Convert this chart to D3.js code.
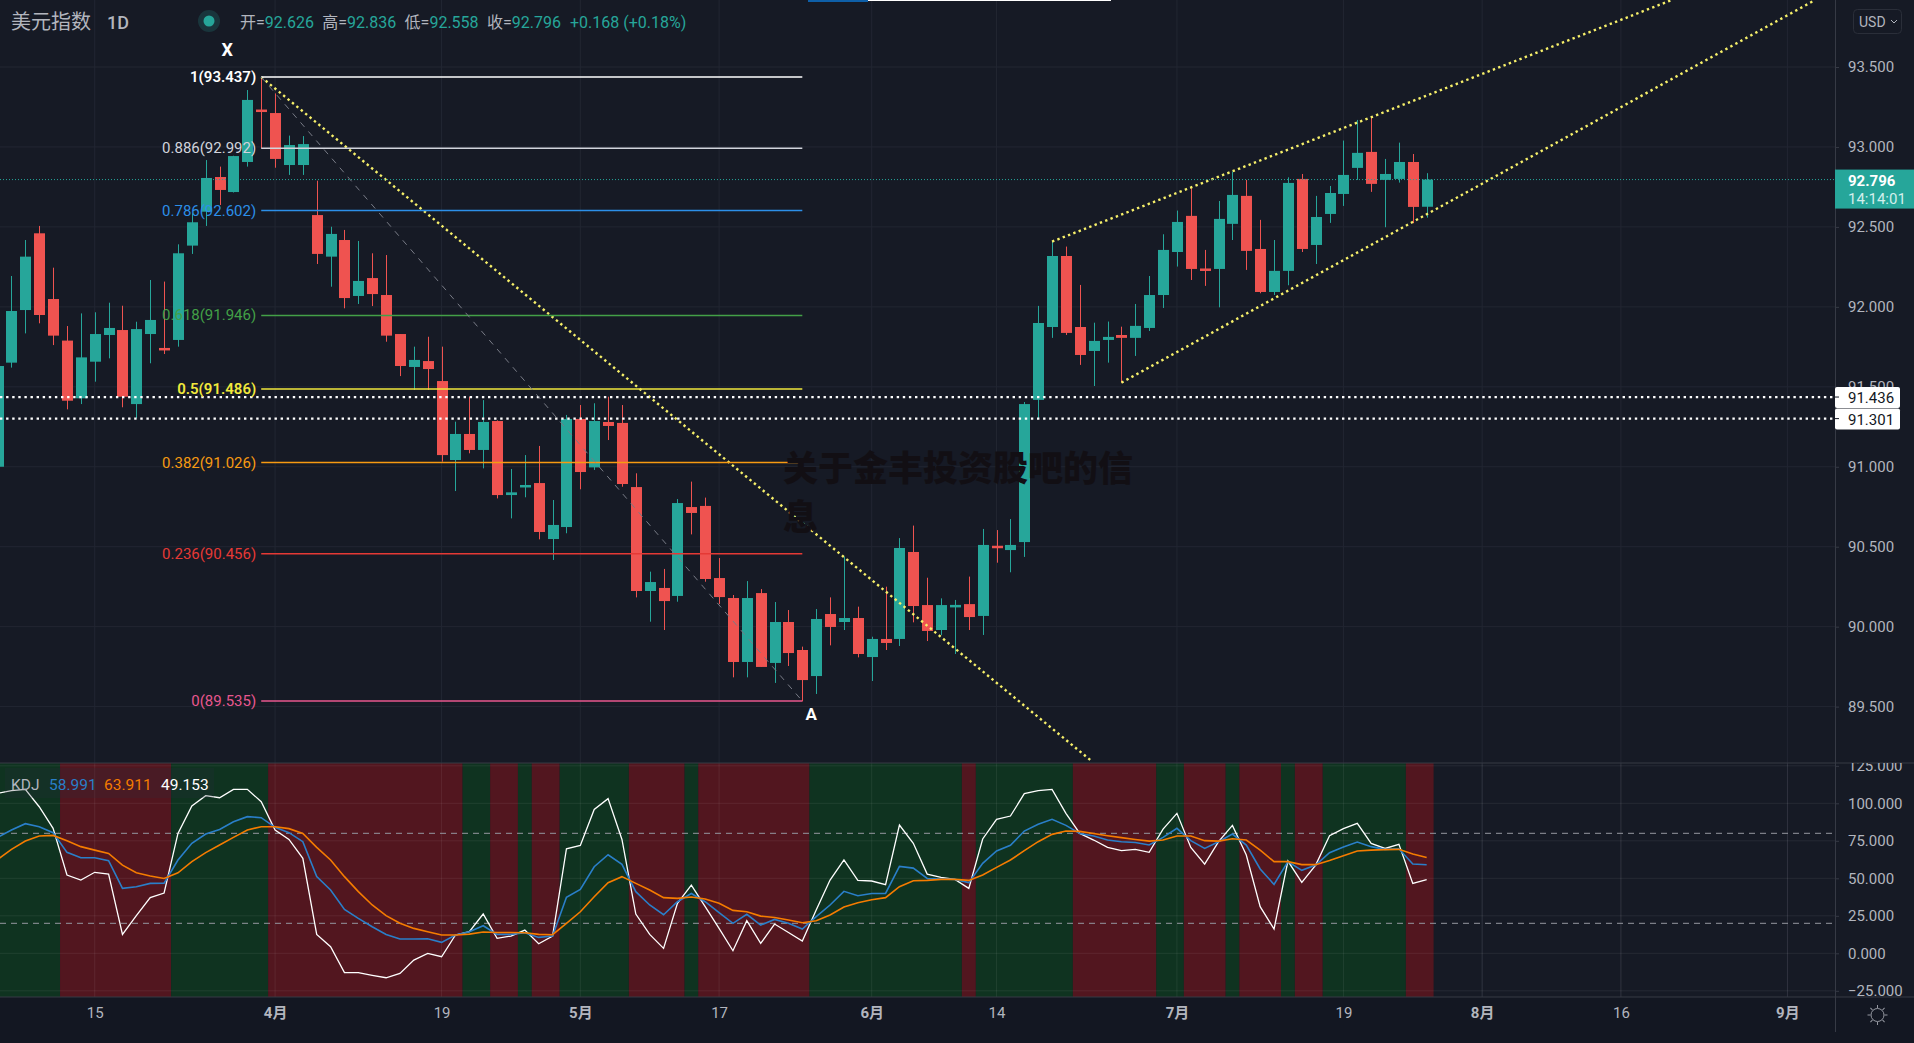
<!DOCTYPE html>
<html>
<head>
<meta charset="utf-8">
<title>美元指数 1D</title>
<script src="https://cdn.jsdelivr.net/npm/d3@7"></script>
<style>
html, body { margin: 0; padding: 0; background: #131722; overflow: hidden; }
svg { display: block; }
text { font-family: Roboto, "Noto Sans CJK SC", sans-serif; }
</style>
</head>
<body>
<svg id="canvas" width="1914" height="1043"></svg>
<script>
var opens = [91.00,91.651,91.980,92.460,92.049,91.789,91.428,91.657,91.824,91.855,91.392,91.830,91.743,91.793,92.383,92.595,92.812,92.718,92.906,93.234,93.212,92.887,92.887,92.574,92.314,92.418,92.068,92.180,92.074,91.830,91.624,91.661,91.536,91.042,91.205,91.105,91.286,90.823,90.871,90.898,90.548,90.623,91.299,90.996,91.280,91.274,90.873,90.223,90.242,90.192,90.748,90.755,90.304,90.179,89.779,90.210,89.773,90.029,89.854,89.691,90.079,90.029,90.054,89.810,89.923,89.923,90.467,90.135,89.979,90.133,90.141,90.067,90.506,90.479,90.529,91.418,91.874,92.318,91.874,91.724,91.793,91.824,91.806,91.868,92.074,92.343,92.569,92.240,92.237,92.519,92.694,92.362,92.093,92.225,92.800,92.387,92.581,92.706,92.869,92.969,92.794,92.800,92.906,92.626];
var highs = [91.70,92.193,92.418,92.506,92.245,91.880,91.959,91.966,92.026,92.007,91.907,92.168,92.158,92.391,92.585,92.918,92.877,92.945,93.356,93.437,93.335,93.071,93.068,92.789,92.501,92.481,92.412,92.335,92.324,91.830,91.751,91.813,91.751,91.282,91.438,91.417,91.290,90.986,91.073,91.130,90.792,91.324,91.386,91.397,91.438,91.386,90.959,90.344,90.361,90.798,90.907,90.807,90.429,90.198,90.285,90.235,90.154,90.104,89.875,90.110,90.183,90.438,90.125,89.937,90.250,90.554,90.632,90.306,90.177,90.167,90.313,90.611,90.604,90.673,91.405,92.006,92.412,92.377,92.137,91.901,91.908,91.876,92.018,92.193,92.454,92.602,92.742,92.356,92.662,92.846,92.794,92.544,92.418,92.810,92.831,92.694,92.756,93.040,93.169,93.186,92.925,93.027,92.956,92.836];
var lows = [90.98,91.620,91.834,91.897,91.761,91.359,91.392,91.532,91.678,91.372,91.303,91.647,91.705,91.751,92.331,92.506,92.637,92.715,92.877,92.991,92.870,92.825,92.825,92.268,92.126,91.991,92.018,92.005,91.782,91.567,91.480,91.480,91.032,90.848,91.084,90.990,90.802,90.677,90.809,90.546,90.417,90.584,90.859,90.980,91.167,90.875,90.183,90.031,89.979,90.156,90.577,90.281,90.142,89.683,89.683,89.748,89.648,89.754,89.533,89.579,89.883,89.979,89.808,89.660,89.854,89.879,90.027,89.910,89.948,89.829,89.979,89.948,90.400,90.340,90.436,91.299,91.806,91.824,91.637,91.505,91.651,91.526,91.693,91.849,91.993,92.252,92.168,92.131,91.997,92.418,92.231,92.085,92.074,92.135,92.343,92.268,92.525,92.631,92.794,92.719,92.498,92.777,92.523,92.558];
var closes = [91.630,91.974,92.314,91.949,91.820,91.413,91.684,91.830,91.868,91.438,91.861,91.918,91.740,92.335,92.529,92.806,92.731,92.943,93.294,93.225,92.925,93.012,93.018,92.331,92.456,92.055,92.162,92.080,91.820,91.630,91.668,91.611,91.073,91.205,91.105,91.280,90.823,90.840,90.886,90.592,90.636,91.299,90.967,91.286,91.255,90.892,90.223,90.279,90.160,90.773,90.711,90.298,90.185,89.779,90.179,89.748,90.029,89.835,89.666,90.048,89.998,90.054,89.829,89.923,89.898,90.492,90.129,89.973,90.135,90.136,90.060,90.511,90.500,90.511,91.392,91.899,92.318,91.837,91.699,91.787,91.812,91.806,91.881,92.074,92.356,92.531,92.237,92.234,92.550,92.700,92.350,92.093,92.225,92.775,92.362,92.562,92.712,92.825,92.963,92.769,92.831,92.906,92.625,92.796];

var kValues = [77.3,82.2,86.4,84.4,80.4,67.3,63.7,63.7,61.7,43.3,44.4,46.6,46.8,62.2,73.3,79.5,82.6,87.7,91.1,90.4,84.0,80.4,74.4,51.1,42.2,29.3,23.3,17.7,12.6,9.5,9.5,9.7,7.3,12.2,14.4,18.4,12.6,12.6,13.7,10.6,11.5,37.3,42.6,57.7,65.7,59.3,41.1,32.2,25.7,34.4,39.9,34.4,27.1,20.0,26.0,18.8,22.6,20.0,16.2,24.4,32.2,41.3,38.4,39.9,39.9,57.9,56.8,49.9,49.5,49.3,47.1,60.0,68.2,72.0,81.5,86.0,89.3,85.3,79.9,78.2,75.5,74.4,73.9,72.2,77.3,83.3,75.1,69.9,74.4,79.5,72.2,56.2,45.9,61.1,55.3,58.8,67.1,70.8,74.2,71.1,69.3,69.7,59.5,58.991];
var dValues = [62.6,69.3,74.8,78.2,78.6,75.1,71.1,68.8,66.6,58.8,53.7,51.5,49.9,53.7,61.1,67.1,72.2,77.3,82.2,84.4,84.4,83.1,79.9,70.6,62.2,51.1,41.1,32.2,25.1,20.0,16.6,14.4,12.2,12.2,12.8,14.2,13.9,13.9,13.7,12.6,12.4,20.0,27.7,37.7,47.1,51.1,46.6,42.2,37.1,36.6,37.5,36.2,33.3,28.6,27.7,24.8,23.9,22.2,20.4,21.7,25.5,30.8,33.7,35.7,37.1,44.4,48.4,48.6,49.3,49.3,48.6,52.2,57.3,62.2,68.4,74.4,79.3,81.5,81.3,79.9,78.4,77.1,75.9,74.8,75.5,78.2,78.2,75.1,74.8,76.4,75.5,68.8,61.1,61.1,59.1,59.1,61.9,65.1,68.2,68.8,69.1,69.3,66.2,63.911];
var jValues = [106.6,108.4,109.3,97.7,83.3,52.2,48.8,54.0,52.8,12.6,25.1,37.1,40.2,79.9,98.2,105.1,103.7,109.3,109.3,101.1,82.2,75.9,63.3,12.6,4.4,-12.9,-12.9,-14.7,-16.3,-13.4,-4.5,-0.1,-2.3,12.2,14.4,26.2,10.0,11.5,15.5,6.4,11.5,69.7,71.9,95.9,103.1,75.9,26.2,12.6,3.3,33.3,45.5,31.1,16.6,1.7,21.7,6.6,19.5,13.9,8.2,28.8,48.8,62.2,48.6,48.2,45.7,85.5,73.3,52.8,50.6,49.3,43.3,76.2,89.3,91.5,106.4,108.4,109.3,93.3,79.9,75.5,70.6,68.4,69.3,67.3,82.8,93.3,70.6,59.5,74.4,85.3,65.5,31.1,16.2,61.5,47.3,58.8,78.4,83.1,86.6,73.3,69.9,72.6,46.6,49.153];

// first and last bar of every KDJ background run
var bullRuns = [[0,4],[13,19],[34,35],[38,38],[41,45],[50,50],[59,69],[71,77],[84,85],[89,89],[93,93],[96,101]];
var bearRuns = [[5,12],[20,33],[36,37],[39,40],[46,49],[51,58],[70,70],[78,83],[86,88],[90,92],[94,95],[102,103]];

var timeTickBars = [7,20,32,42,52,63,72,85,97,107,117,129];
var timeTickLabels = ['15','4月','19','5月','17','6月','14','7月','19','8月','16','9月'];
var priceTicks = [89.5,90,90.5,91,91.5,92,92.5,93,93.5];
var kdjTicks = [-25,0,25,50,75,100,125];
var kdjBands = [20,80];

var fibLevels = [
    {label:'1(93.437)', p:93.437, c:'#ffffff'},
    {label:'0.886(92.992)', p:92.992, c:'#d1d4dc'},
    {label:'0.786(92.602)', p:92.602, c:'#2c8fe8'},
    {label:'0.618(91.946)', p:91.946, c:'#43a047'},
    {label:'0.5(91.486)', p:91.486, c:'#f2e93c'},
    {label:'0.382(91.026)', p:91.026, c:'#f79a12'},
    {label:'0.236(90.456)', p:90.456, c:'#e53935'},
    {label:'0(89.535)', p:89.535, c:'#e8578e'}
];
var fibStartBar = 19;
var fibEndBar = 58;
var trendLines = [
    {x1:19, y1:93.437, x2:78.84, y2:89.16},
    {x1:76, y1:92.408, x2:120.67, y2:93.919},
    {x1:81, y1:91.526, x2:131, y2:93.919}
];
var drawnLevels = [91.436,91.301];
var lastPrice = 92.796;

var width = 1914, height = 1043, axisX = 1835, paneBottom = 763, kdjBottom = 997;
var svg = d3.select('#canvas');
var teal = '#26a69a', red = '#ef5350', grid = '#222632', axisLine = '#363a45', axisText = '#b2b5be';

var x = d3.scaleLinear().domain([0,129]).range([-2.4,1787.4]);
var y = d3.scaleLinear().domain([89.5,93.5]).range([706.6,67]);
var kdjY = d3.scaleLinear().domain([-25,125]).range([990.8,765.8]);
var barStep = x(1) - x(0);

var defs = svg.append('defs');
defs.append('clipPath').attr('id','mainClip').append('rect').attr('x',0).attr('y',0).attr('width',axisX).attr('height',paneBottom);
defs.append('clipPath').attr('id','kdjClip').append('rect').attr('x',0).attr('y',paneBottom).attr('width',axisX).attr('height',kdjBottom-paneBottom);
defs.append('clipPath').attr('id','kdjAxisClip').append('rect').attr('x',axisX).attr('y',paneBottom).attr('width',width-axisX).attr('height',kdjBottom-paneBottom);

svg.append('rect').attr('width',width).attr('height',height).attr('fill','#131722');
svg.append('rect').attr('width',width).attr('height',kdjBottom).attr('fill','#161a25');

function drawGrid() {
    svg.append('g').selectAll('line').data(timeTickBars).enter().append('line')
        .attr('x1',function(d){return x(d);}).attr('x2',function(d){return x(d);})
        .attr('y1',0).attr('y2',kdjBottom).attr('stroke',grid);
    svg.append('g').selectAll('line').data(priceTicks).enter().append('line')
        .attr('x1',0).attr('x2',axisX).attr('y1',function(d){return y(d);}).attr('y2',function(d){return y(d);})
        .attr('stroke',grid);
}

function drawCandles() {
    var bars = svg.append('g').attr('clip-path','url(#mainClip)').selectAll('g').data(opens).enter().append('g');
    bars.append('line')
        .attr('x1',function(d,i){return Math.round(x(i))+0.5;})
        .attr('x2',function(d,i){return Math.round(x(i))+0.5;})
        .attr('y1',function(d,i){return y(highs[i]);})
        .attr('y2',function(d,i){return y(lows[i]);})
        .attr('stroke',function(d,i){return closes[i]>=d?teal:red;});
    bars.append('rect')
        .attr('x',function(d,i){return Math.round(x(i))-5;})
        .attr('width',11)
        .attr('y',function(d,i){return y(Math.max(d,closes[i]));})
        .attr('height',function(d,i){return Math.max(2.5,Math.abs(y(d)-y(closes[i])));})
        .attr('fill',function(d,i){return closes[i]>=d?teal:red;});
}

function drawFib() {
    var g = svg.append('g');
    g.selectAll('line').data(fibLevels).enter().append('line')
        .attr('x1',x(fibStartBar)).attr('x2',x(fibEndBar))
        .attr('y1',function(d){return y(d.p);}).attr('y2',function(d){return y(d.p);})
        .attr('stroke',function(d){return d.c;}).attr('stroke-width',1.5);
    g.selectAll('text').data(fibLevels).enter().append('text')
        .attr('x',x(fibStartBar)-5).attr('y',function(d){return y(d.p)+5;})
        .attr('text-anchor','end').attr('fill',function(d){return d.c;})
        .attr('font-size',15).attr('font-weight',function(d){return d.p==91.486||d.p==93.437?600:400;})
        .text(function(d){return d.label;});
    g.append('line')
        .attr('x1',x(fibStartBar)).attr('y1',y(93.437)).attr('x2',x(fibEndBar)).attr('y2',y(89.535))
        .attr('stroke','#787b86').attr('stroke-dasharray','6 6');
    g.append('text').attr('x',x(fibStartBar)-34).attr('y',y(93.437)-21).attr('text-anchor','middle')
        .attr('fill','#fff').attr('font-size',18).attr('font-weight',700).text('X');
    g.append('text').attr('x',x(fibEndBar)+9).attr('y',y(89.535)+19).attr('text-anchor','middle')
        .attr('fill','#fff').attr('font-size',17).attr('font-weight',700).text('A');
}

function drawTrends() {
    var g = svg.append('g').attr('clip-path','url(#mainClip)');
    g.selectAll('line.under').data(trendLines).enter().append('line').attr('class','under')
        .attr('x1',function(d){return x(d.x1);}).attr('y1',function(d){return y(d.y1);})
        .attr('x2',function(d){return x(d.x2);}).attr('y2',function(d){return y(d.y2);})
        .attr('stroke','#f7f06a').attr('stroke-width',2.4).attr('stroke-dasharray','2.4 3.3');
    var levels = svg.append('g');
    levels.selectAll('line').data(drawnLevels).enter().append('line')
        .attr('x1',0).attr('x2',axisX).attr('y1',function(d){return y(d);}).attr('y2',function(d){return y(d);})
        .attr('stroke','#fff').attr('stroke-width',2.2).attr('stroke-dasharray','2.4 3.7');
    levels.append('line').attr('x1',0).attr('x2',axisX).attr('y1',y(lastPrice)).attr('y2',y(lastPrice))
        .attr('stroke',teal).attr('stroke-dasharray','1 2');
}

function drawKdj() {
    var g = svg.append('g').attr('clip-path','url(#kdjClip)');
    function band(runs, color) {
        g.append('g').selectAll('rect').data(runs).enter().append('rect')
            .attr('x',function(d){return x(d[0])-barStep/2;})
            .attr('width',function(d){return (d[1]-d[0]+1)*barStep;})
            .attr('y',paneBottom).attr('height',kdjBottom-paneBottom).attr('fill',color);
    }
    band(bullRuns,'#0f3320');
    band(bearRuns,'#52161f');
    g.append('g').selectAll('line').data(kdjTicks).enter().append('line')
        .attr('x1',0).attr('x2',axisX).attr('y1',function(d){return kdjY(d);}).attr('y2',function(d){return kdjY(d);})
        .attr('stroke','#ffffff').attr('stroke-opacity',0.07);
    g.append('g').selectAll('line').data(timeTickBars).enter().append('line')
        .attr('x1',function(d){return x(d);}).attr('x2',function(d){return x(d);})
        .attr('y1',paneBottom).attr('y2',kdjBottom).attr('stroke','#ffffff').attr('stroke-opacity',0.07);
    g.append('g').selectAll('line').data(kdjBands).enter().append('line')
        .attr('x1',0).attr('x2',axisX-3).attr('y1',function(d){return kdjY(d);}).attr('y2',function(d){return kdjY(d);})
        .attr('stroke','#9598a1').attr('stroke-dasharray','6 5');
    var line = d3.line().x(function(d,i){return x(i);}).y(function(d){return kdjY(d);});
    g.append('path').datum(jValues).attr('d',line).attr('fill','none').attr('stroke','#ffffff').attr('stroke-width',1.3);
    g.append('path').datum(kValues).attr('d',line).attr('fill','none').attr('stroke','#2a7fc9').attr('stroke-width',1.6);
    g.append('path').datum(dValues).attr('d',line).attr('fill','none').attr('stroke','#f57c00').attr('stroke-width',1.6);
    svg.append('line').attr('x1',0).attr('x2',width).attr('y1',paneBottom).attr('y2',paneBottom).attr('stroke',axisLine);
    svg.append('line').attr('x1',0).attr('x2',width).attr('y1',kdjBottom).attr('y2',kdjBottom).attr('stroke',axisLine);
    svg.append('rect').attr('x',5).attr('y',768).attr('width',209).attr('height',30)
        .attr('fill','#2a2e39').attr('fill-opacity',0.22);
    var legend = svg.append('text').attr('x',11).attr('y',790).attr('font-size',15.5);
    legend.append('tspan').attr('fill','#b2b5be').text('KDJ');
    legend.append('tspan').attr('x',49).attr('fill','#2a7fc9').text(kValues[103].toFixed(3));
    legend.append('tspan').attr('x',104).attr('fill','#f57c00').text(dValues[103].toFixed(3));
    legend.append('tspan').attr('x',161).attr('fill','#ffffff').text(jValues[103].toFixed(3));
}

function drawAxes() {
    svg.append('line').attr('x1',axisX+0.5).attr('x2',axisX+0.5).attr('y1',0).attr('y2',1032).attr('stroke',axisLine);
    var priceAxis = d3.axisRight(y).tickValues(priceTicks).tickFormat(d3.format('.3f')).tickSize(4).tickPadding(9);
    var kdjAxis = d3.axisRight(kdjY).tickValues(kdjTicks).tickFormat(d3.format('.3f')).tickSize(4).tickPadding(9);
    var timeAxis = d3.axisBottom(x).tickValues(timeTickBars)
        .tickFormat(function(d,i){return timeTickLabels[i];}).tickSize(0).tickPadding(10);
    var a = svg.append('g').attr('transform','translate('+axisX+',0)').call(priceAxis);
    var b = svg.append('g').attr('clip-path','url(#kdjAxisClip)')
        .append('g').attr('transform','translate('+axisX+',0)').call(kdjAxis);
    var c = svg.append('g').attr('transform','translate(0,'+kdjBottom+')').call(timeAxis);
    [a,b,c].forEach(function(s){
        s.select('.domain').remove();
        s.selectAll('line').attr('stroke',axisLine);
        s.selectAll('text').attr('fill',axisText).attr('font-size',15).attr('font-family','Roboto, "Noto Sans CJK SC", sans-serif');
    });
    c.selectAll('text').attr('font-weight',function(d,i){return timeTickLabels[i].indexOf('月')>0?700:400;});
}

function drawPriceTags() {
    var tags = svg.append('g').selectAll('g').data(drawnLevels).enter().append('g');
    tags.append('rect').attr('x',axisX).attr('y',function(d){return y(d)-10;}).attr('width',65).attr('height',21).attr('rx',2).attr('fill','#fff');
    tags.append('line').attr('x1',axisX).attr('x2',axisX+4).attr('y1',function(d){return y(d);}).attr('y2',function(d){return y(d);}).attr('stroke','#131722');
    tags.append('text').attr('x',axisX+13).attr('y',function(d){return y(d)+6;}).attr('fill','#131722').attr('font-size',15)
        .text(function(d){return d.toFixed(3);});
    var last = svg.append('g');
    last.append('rect').attr('x',axisX).attr('y',y(lastPrice)-10).attr('width',width-axisX).attr('height',39).attr('fill',teal);
    last.append('text').attr('x',axisX+13).attr('y',y(lastPrice)+6).attr('fill','#fff').attr('font-size',15).attr('font-weight',700).text(lastPrice.toFixed(3));
    last.append('text').attr('x',axisX+13).attr('y',y(lastPrice)+24).attr('fill','#d3efec').attr('font-size',15).text('14:14:01');
}

function drawHeader() {
    svg.append('text').attr('x',11).attr('y',29).attr('fill','#b2b5be').attr('font-size',20).text('美元指数');
    svg.append('text').attr('x',107).attr('y',29).attr('fill','#b2b5be').attr('font-size',18).attr('font-weight',500).text('1D');
    svg.append('circle').attr('cx',209).attr('cy',21).attr('r',11).attr('fill',teal).attr('fill-opacity',0.2);
    svg.append('circle').attr('cx',209).attr('cy',21).attr('r',5.5).attr('fill',teal);
    var info = svg.append('text').attr('y',28).attr('font-size',16).attr('fill',teal);
    var quote = [['开=',opens[103]],['高=',highs[103]],['低=',lows[103]],['收=',closes[103]]];
    quote.forEach(function(q,i){
        info.append('tspan').attr('x',240+i*82.3).attr('fill','#b2b5be').text(q[0]);
        info.append('tspan').text(q[1].toFixed(3));
    });
    info.append('tspan').attr('x',570).text('+0.168 (+0.18%)');
    svg.append('rect').attr('x',1853.5).attr('y',9.5).attr('width',48).attr('height',24).attr('rx',4)
        .attr('fill','none').attr('stroke','#2a2e39');
    svg.append('text').attr('x',1859).attr('y',27).attr('fill',axisText).attr('font-size',14).text('USD');
    svg.append('path').attr('d','M1891 20l3 3l3 -3').attr('fill','none').attr('stroke',axisText);
    svg.append('rect').attr('x',808).attr('y',0).attr('width',60).attr('height',2).attr('fill','#0e5fa8');
    svg.append('rect').attr('x',868).attr('y',0).attr('width',243).attr('height',1).attr('fill','#ffffff');
}

function drawSun() {
    var g = svg.append('g').attr('transform','translate(1877.5,1015)').attr('stroke','#9598a1').attr('fill','none');
    g.append('circle').attr('r',6.5);
    g.selectAll('line').data(d3.range(8)).enter().append('line')
        .attr('x1',0).attr('x2',0).attr('y1',-7).attr('y2',-10)
        .attr('transform',function(d){return 'rotate('+d*45+')';});
}

function drawWatermark() {
    var g = svg.append('g').attr('font-family','"Noto Sans CJK SC"').attr('font-size',35).attr('font-weight',900).attr('fill','#120f14');
    g.append('text').attr('x',783).attr('y',481).text('关于金丰投资股吧的信');
    g.append('text').attr('x',783).attr('y',530).text('息');
}

drawGrid();
drawKdj();
drawCandles();
drawTrends();
drawFib();
drawAxes();
drawPriceTags();
drawHeader();
drawSun();
drawWatermark();
</script>
</body>
</html>
